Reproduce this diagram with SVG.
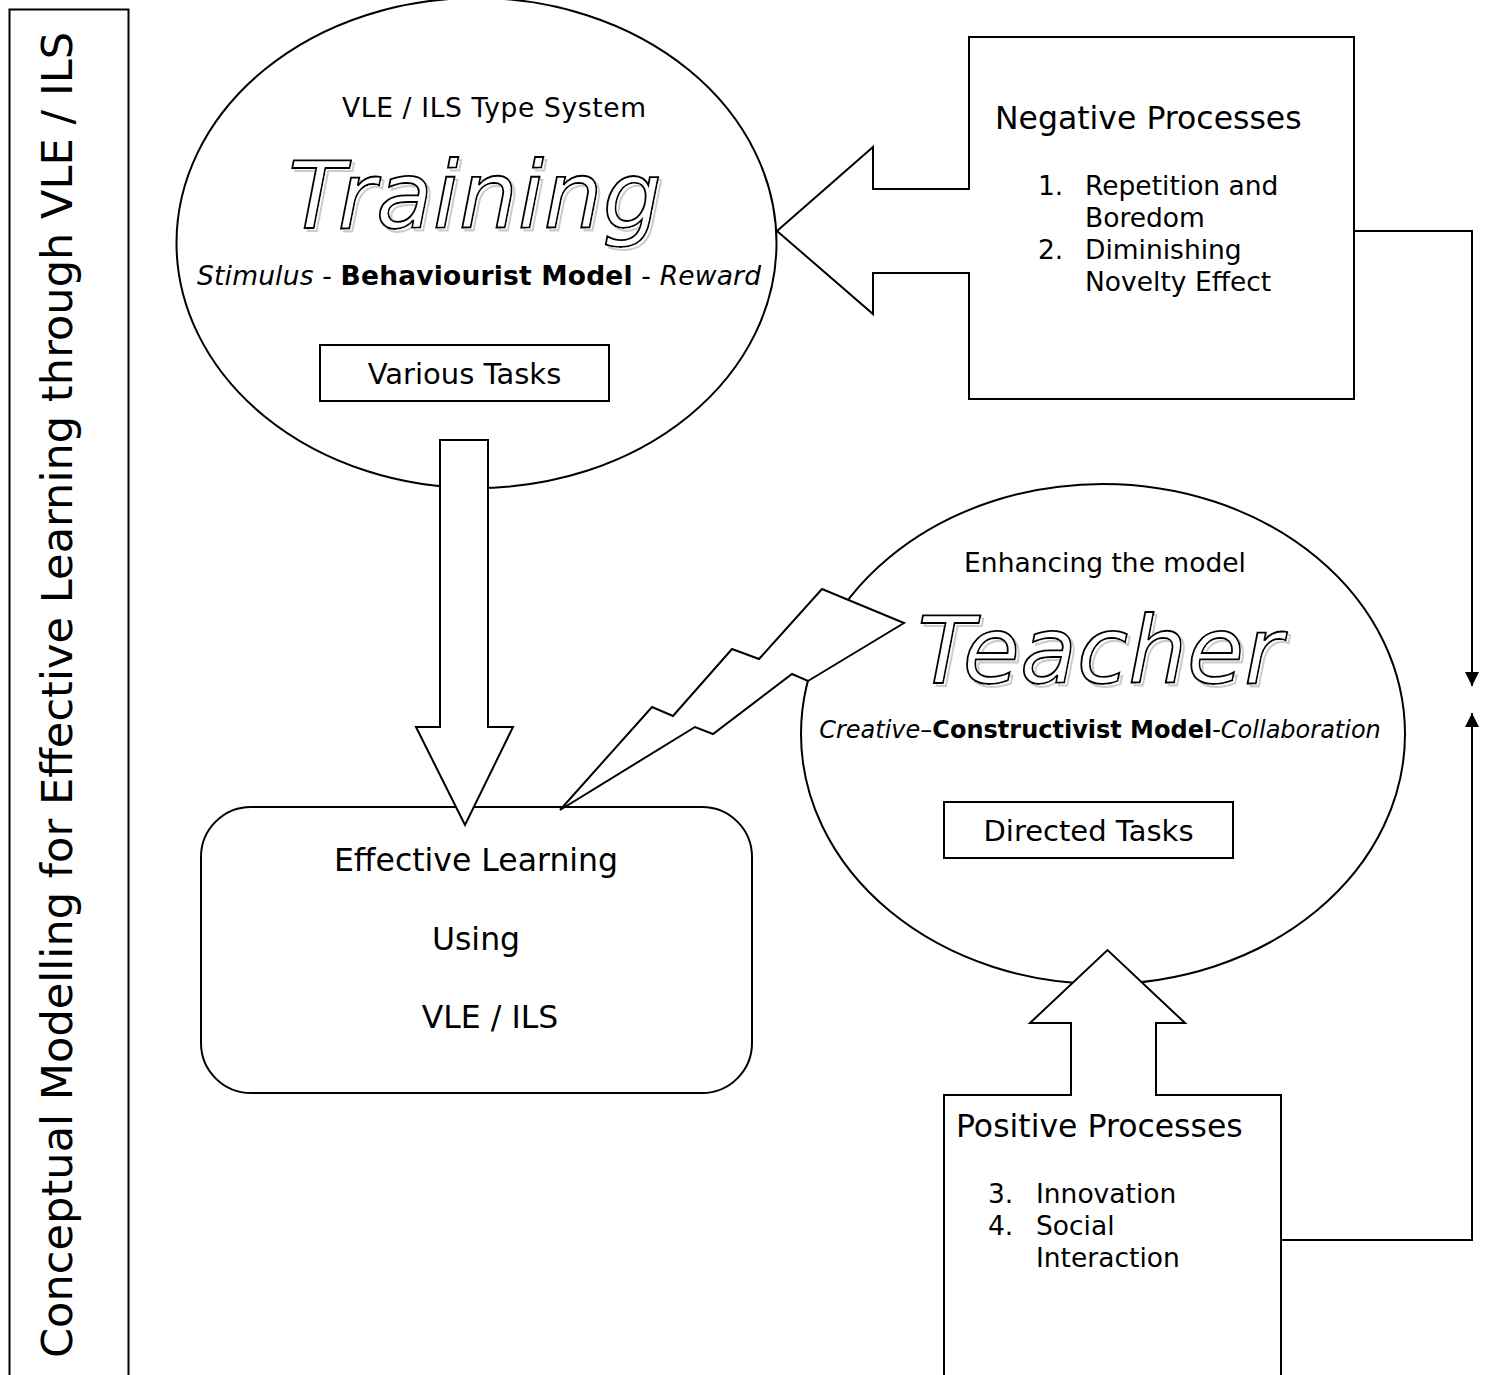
<svg xmlns="http://www.w3.org/2000/svg" width="1488" height="1375" viewBox="0 0 1488 1375">
  <style>
    text { font-family: "DejaVu Sans", Verdana, sans-serif; fill: #000; }
    .shape { fill: #fff; stroke: #000; stroke-width: 2; }
    .line { fill: none; stroke: #000; stroke-width: 2; }
    .small { font-size: 26.5px; }
    .large { font-size: 31.5px; }
    .box { font-size: 29px; }
    .big { font-size: 93px; font-style: italic; fill: #fff; stroke: #000; stroke-width: 1.8; filter: url(#outline-shadow); }
    .it { font-style: italic; }
    .bd { font-weight: bold; }
  </style>
  <defs>
    <marker id="head" viewBox="0 0 14 14" refX="14" refY="7" markerWidth="14" markerHeight="14" markerUnits="userSpaceOnUse" orient="auto">
      <path d="M0 0 L14 7 L0 14 Z" fill="#000"/>
    </marker>
    <!-- grey offset copy of the outlined lettering, tucked underneath -->
    <filter id="outline-shadow" x="-10%" y="-20%" width="120%" height="140%">
      <feOffset in="SourceGraphic" dx="3" dy="3" result="off"/>
      <feColorMatrix in="off" type="matrix" values="0.4 0 0 0 0.6  0 0.4 0 0 0.6  0 0 0.4 0 0.6  0 0 0 1 0" result="grey"/>
      <feMerge>
        <feMergeNode in="grey"/>
        <feMergeNode in="SourceGraphic"/>
      </feMerge>
    </filter>
  </defs>

  <rect width="1488" height="1375" fill="#fff"/>

  <!-- side title -->
  <g id="title">
    <rect x="9.5" y="9.5" width="119" height="1400" class="shape"/>
    <text transform="translate(72,1358) rotate(-90)" font-size="43" textLength="1326" lengthAdjust="spacing">Conceptual Modelling for Effective Learning through VLE / ILS</text>
  </g>

  <!-- behaviourist model -->
  <g id="training">
    <ellipse cx="476.5" cy="243" rx="300" ry="245" class="shape"/>
    <text x="494" y="117" class="small" text-anchor="middle" textLength="304" lengthAdjust="spacing">VLE / ILS Type System</text>
    <text x="475" y="228" class="big" text-anchor="middle">Training</text>
    <text x="479" y="285" class="small" text-anchor="middle" textLength="564" lengthAdjust="spacing"><tspan class="it">Stimulus</tspan> - <tspan class="bd">Behaviourist Model</tspan> - <tspan class="it">Reward</tspan></text>
    <rect x="320" y="345" width="289" height="56" class="shape"/>
    <text x="464.5" y="384" class="box" text-anchor="middle">Various Tasks</text>
  </g>

  <!-- constructivist model -->
  <g id="teacher">
    <ellipse cx="1103" cy="734" rx="302" ry="250" class="shape"/>
    <text x="1105" y="572" class="small" text-anchor="middle">Enhancing the model</text>
    <text x="1100" y="683" class="big" text-anchor="middle">Teacher</text>
    <text x="1100" y="738" font-size="24" text-anchor="middle"><tspan class="it">Creative</tspan>–<tspan class="bd">Constructivist Model</tspan>-<tspan class="it">Collaboration</tspan></text>
    <rect x="944" y="802" width="289" height="56" class="shape"/>
    <text x="1088.5" y="841" class="box" text-anchor="middle">Directed Tasks</text>
  </g>

  <!-- outcome -->
  <g id="effective-learning">
    <rect x="201" y="807" width="551" height="286" rx="50" ry="50" class="shape"/>
    <text x="476" y="871" class="large" text-anchor="middle">Effective Learning</text>
    <text x="476" y="950" class="large" text-anchor="middle">Using</text>
    <text x="490" y="1028" class="large" text-anchor="middle">VLE / ILS</text>
  </g>

  <!-- connectors -->
  <g id="connectors">
    <path d="M1354 231 H1472 V686" class="line" marker-end="url(#head)"/>
    <path d="M1281 1240 H1472 V713" class="line" marker-end="url(#head)"/>
    <polygon points="440,440 488,440 488,727 513,727 465,825 416,727 440,727" class="shape"/>
    <polygon points="560,810 652,707 673,716 732,649 759,659 822,589 904,623 808,681 792,674 713,734 695,727" class="shape"/>
  </g>

  <!-- negative processes box with its arrow -->
  <g id="negative">
    <path d="M969 37 H1354 V399 H969 V273 H873 V314 L777 231 L873 147 V189 H969 Z" class="shape"/>
    <text x="995" y="129" class="large">Negative Processes</text>
    <text x="1038" y="195" class="small">1.</text>
    <text x="1085" y="195" class="small">Repetition and</text>
    <text x="1085" y="227" class="small">Boredom</text>
    <text x="1038" y="259" class="small">2.</text>
    <text x="1085" y="259" class="small">Diminishing</text>
    <text x="1085" y="291" class="small">Novelty Effect</text>
  </g>

  <!-- positive processes box with its arrow -->
  <g id="positive">
    <path d="M944 1385 V1095 H1071 V1023 H1030 L1107.5 950 L1185 1023 H1156 V1095 H1281 V1385 Z" class="shape"/>
    <text x="956" y="1137" class="large">Positive Processes</text>
    <text x="988" y="1203" class="small">3.</text>
    <text x="1036" y="1203" class="small">Innovation</text>
    <text x="988" y="1235" class="small">4.</text>
    <text x="1036" y="1235" class="small">Social</text>
    <text x="1036" y="1267" class="small">Interaction</text>
  </g>
</svg>
